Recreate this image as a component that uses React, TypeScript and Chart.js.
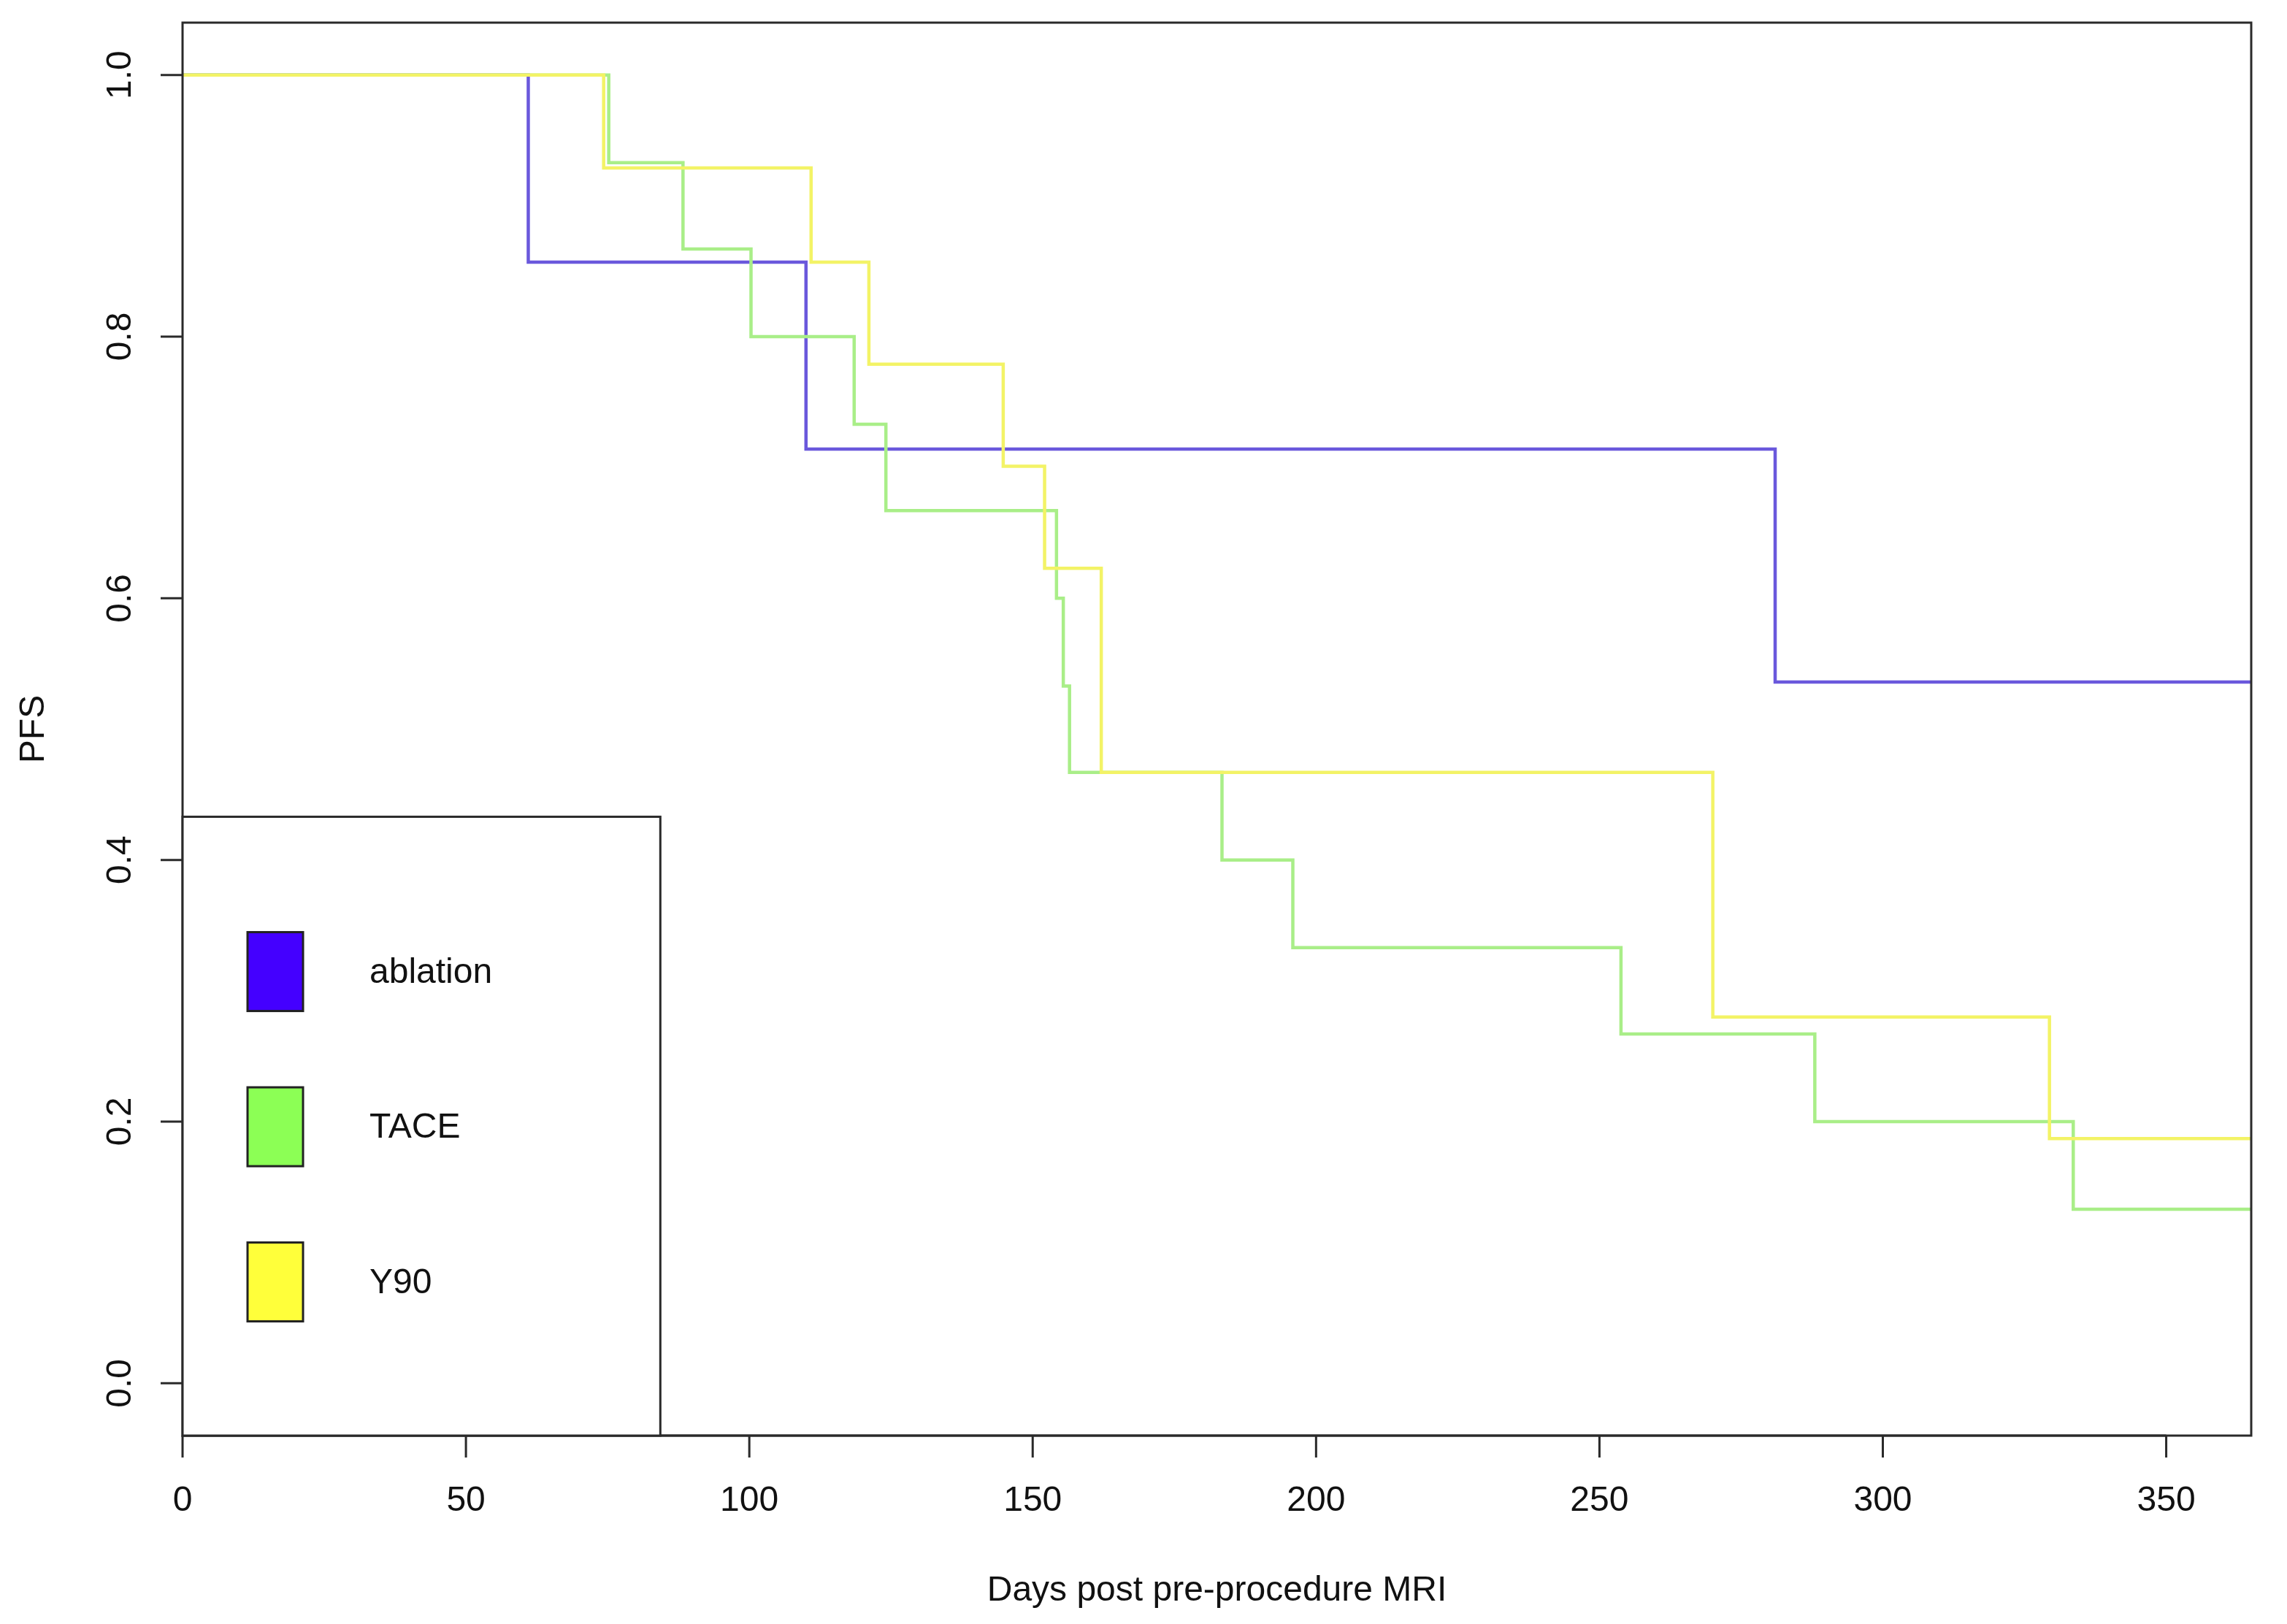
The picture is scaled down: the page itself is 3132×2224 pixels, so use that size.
import React, { useEffect, useRef } from "react";
import { Chart, registerables } from "chart.js";

Chart.register(...registerables);

// Kaplan-Meier steps (day of drop, PFS after the drop)
const ablationDays = [0, 61, 110, 281, 365];
const ablationPfs = [1, 0.857, 0.714, 0.536, 0.536];

const taceDays = [0, 75.2, 88.3, 100.3, 118.5, 124.1, 154.2, 155.4, 156.5, 183.4, 195.9, 253.8, 288, 333.6, 365];
const tacePfs = [1, 0.933, 0.867, 0.8, 0.733, 0.667, 0.6, 0.533, 0.467, 0.4, 0.333, 0.267, 0.2, 0.133, 0.133];

const y90Days = [0, 74.3, 110.9, 121.1, 144.8, 152.1, 162.1, 270, 329.4, 365];
const y90Pfs = [1, 0.929, 0.857, 0.779, 0.701, 0.623, 0.467, 0.28, 0.187, 0.187];

const groupNames = ["ablation", "TACE", "Y90"];
const swatchColors = ["#4400FF", "#8CFF55", "#FFFF3A"];
const lineColors = ["#6A58DC", "#A9EE88", "#F3F366"];

const xTicks = [0, 50, 100, 150, 200, 250, 300, 350];
const yTicks = [0, 0.2, 0.4, 0.6, 0.8, 1.0];

const xLabel = "Days post pre-procedure MRI";
const yLabel = "PFS";

const W = 3132;
const H = 2224;
const FONT = '48px "Liberation Sans", Arial, sans-serif';

const toPoints = (days: number[], pfs: number[]) =>
  days.map((d, i) => ({ x: d, y: pfs[i] }));

const rStyle = {
  id: "rStyle",
  beforeDraw(chart: any) {
    const ctx = chart.ctx;
    ctx.save();
    ctx.fillStyle = "#ffffff";
    ctx.fillRect(0, 0, chart.width, chart.height);
    ctx.restore();
  },
  afterDraw(chart: any) {
    const { ctx, chartArea: a, scales } = chart;
    const xs = scales.x;
    const ys = scales.y;
    ctx.save();

    // box + axes
    ctx.strokeStyle = "#2a2a2a";
    ctx.lineWidth = 3;
    ctx.strokeRect(a.left, a.top, a.right - a.left, a.bottom - a.top);
    ctx.beginPath();
    ctx.moveTo(xs.getPixelForValue(xTicks[0]), a.bottom);
    ctx.lineTo(xs.getPixelForValue(xTicks[xTicks.length - 1]), a.bottom);
    xTicks.forEach((v) => {
      const px = xs.getPixelForValue(v);
      ctx.moveTo(px, a.bottom);
      ctx.lineTo(px, a.bottom + 30);
    });
    yTicks.forEach((v) => {
      const py = ys.getPixelForValue(v);
      ctx.moveTo(a.left - 30, py);
      ctx.lineTo(a.left, py);
    });
    ctx.stroke();

    // tick labels
    ctx.fillStyle = "#111111";
    ctx.font = FONT;
    ctx.textAlign = "center";
    ctx.textBaseline = "middle";
    xTicks.forEach((v) => {
      ctx.fillText(String(v), xs.getPixelForValue(v), a.bottom + 90);
    });
    yTicks.forEach((v) => {
      ctx.save();
      ctx.translate(a.left - 84, ys.getPixelForValue(v));
      ctx.rotate(-Math.PI / 2);
      ctx.fillText(v.toFixed(1), 0, 0);
      ctx.restore();
    });

    // axis titles
    ctx.fillText(xLabel, (a.left + a.right) / 2, a.bottom + 213);
    ctx.save();
    ctx.translate(47, (a.top + a.bottom) / 2);
    ctx.rotate(-Math.PI / 2);
    ctx.fillText(yLabel, 0, 0);
    ctx.restore();

    // legend (bottom-left box)
    const lx0 = a.left;
    const lx1 = xs.getPixelForValue(84.3);
    const ly0 = ys.getPixelForValue(0.433);
    ctx.fillStyle = "#ffffff";
    ctx.fillRect(lx0, ly0, lx1 - lx0, a.bottom - ly0);
    ctx.strokeStyle = "#2a2a2a";
    ctx.lineWidth = 3;
    ctx.strokeRect(lx0, ly0, lx1 - lx0, a.bottom - ly0);
    groupNames.forEach((name, i) => {
      const cy = ly0 + 212 + i * 212.5;
      ctx.fillStyle = swatchColors[i];
      ctx.fillRect(lx0 + 89, cy - 54, 76, 108);
      ctx.strokeStyle = "#222222";
      ctx.lineWidth = 3;
      ctx.strokeRect(lx0 + 89, cy - 54, 76, 108);
      ctx.fillStyle = "#111111";
      ctx.textAlign = "left";
      ctx.fillText(name, lx0 + 256, cy + 2);
    });

    ctx.restore();
  },
};

export default function App() {
  const canvasRef = useRef<HTMLCanvasElement>(null);

  useEffect(() => {
    const canvas = canvasRef.current;
    if (!canvas) {
      return;
    }
    const series = [
      toPoints(ablationDays, ablationPfs),
      toPoints(taceDays, tacePfs),
      toPoints(y90Days, y90Pfs),
    ];
    const chart = new Chart(canvas, {
      type: "line",
      data: {
        datasets: series.map((pts, i) => ({
          label: groupNames[i],
          data: pts,
          stepped: "before" as const,
          borderColor: lineColors[i],
          borderWidth: 4.5,
          pointRadius: 0,
          fill: false,
          order: 3 - i,
        })),
      },
      options: {
        responsive: false,
        devicePixelRatio: 1,
        animation: false,
        layout: { padding: { top: 31, right: 49, left: 0, bottom: 0 } },
        plugins: {
          legend: { display: false },
          tooltip: { enabled: false },
        },
        scales: {
          x: {
            type: "linear",
            min: 0,
            max: 365,
            ticks: { display: false },
            grid: { display: false },
            border: { display: false },
            afterFit: (scale: any) => {
              scale.height = 258;
            },
          },
          y: {
            type: "linear",
            min: -0.04,
            max: 1.04,
            ticks: { display: false },
            grid: { display: false },
            border: { display: false },
            afterFit: (scale: any) => {
              scale.width = 250;
            },
          },
        },
      },
      plugins: [rStyle],
    });
    return () => {
      chart.destroy();
    };
  }, []);

  return (
    <div style={{ position: "fixed", left: 0, top: 0, width: W, height: H, background: "#fff" }}>
      <canvas ref={canvasRef} width={W} height={H} style={{ width: W, height: H }} />
    </div>
  );
}
